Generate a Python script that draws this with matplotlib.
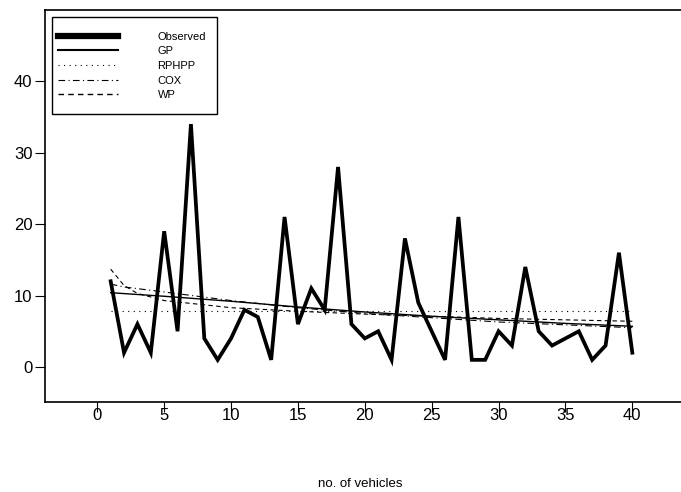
import matplotlib
matplotlib.use("Agg")
import matplotlib.pyplot as plt
from matplotlib.lines import Line2D
from matplotlib.patches import Rectangle

plt.rcParams['font.family'] = ['Liberation Sans', 'DejaVu Sans']

# ---- data ----
vehicles = list(range(1, 41))
observed = [12, 2, 6, 2, 19, 5, 34, 4, 1, 4,
            8, 7, 1, 21, 6, 11, 8, 28, 6, 4,
            5, 1, 18, 9, 5, 1, 21, 1, 1, 5,
            3, 14, 5, 3, 4, 5, 1, 3, 16, 2]

gp_x = [1, 5, 10, 15, 20, 25, 30, 35, 40]
gp_y = [10.4, 9.9, 9.2, 8.4, 7.7, 7.1, 6.6, 6.1, 5.7]

rphpp_x = [1, 40]
rphpp_y = [7.8, 7.8]

cox_x = [1, 2, 5, 10, 15, 20, 25, 30, 35, 40]
cox_y = [11.6, 11.2, 10.5, 9.3, 8.3, 7.5, 6.9, 6.3, 5.9, 5.5]

wp_x = [1, 2, 3, 5, 10, 15, 20, 25, 30, 35, 40]
wp_y = [13.7, 11.4, 10.3, 9.3, 8.3, 7.8, 7.4, 7.1, 6.8, 6.6, 6.4]

labels = ["Observed", "GP", "RPHPP", "COX", "WP"]
xticks = [0, 5, 10, 15, 20, 25, 30, 35, 40]
yticks = [0, 10, 20, 30, 40]

W, H = 681, 492
fig = plt.figure(figsize=(W / 100, H / 100), dpi=100)
ax = fig.add_axes([45 / W, (H - 402) / H, 1 - 45 / W, (402 - 10.5) / H])

ax.plot(vehicles, observed, color='black', lw=2.7, solid_joinstyle='miter')
ax.plot(gp_x, gp_y, color='black', lw=1.0)
ax.plot(rphpp_x, rphpp_y, color='black', lw=0.8, linestyle=(0, (1, 4)))
ax.plot(cox_x, cox_y, color='black', lw=0.8, linestyle=(0, (6, 3, 1, 3)))
ax.plot(wp_x, wp_y, color='black', lw=0.8, linestyle=(0, (4, 3)))

ax.set_xlim(-3.91, 43.64)
ax.set_ylim(-4.9, 49.9)
ax.set_xticks(xticks)
ax.set_yticks(yticks)
ax.set_xticklabels([str(t) for t in xticks])
ax.set_yticklabels([str(t) for t in yticks])
ax.spines['right'].set_visible(False)
for s in ['left', 'top', 'bottom']:
    ax.spines[s].set_linewidth(1.2)
ax.tick_params(axis='x', direction='out', length=7, width=0.8, pad=-3, labelsize=12)
ax.tick_params(axis='y', direction='out', length=7, width=0.8, pad=2, labelsize=12)
ax.set_xlabel("no. of vehicles", fontsize=9.5, va='center')
ax.xaxis.set_label_coords((360 - 45) / (W - 45), (402 - 484) / (402 - 10.5))

handles = [
    Line2D([], [], color='black', lw=4.5),
    Line2D([], [], color='black', lw=1.5),
    Line2D([], [], color='black', lw=0.8, linestyle=(0, (1, 4))),
    Line2D([], [], color='black', lw=0.8, linestyle=(0, (6, 3, 1, 3))),
    Line2D([], [], color='black', lw=1.0, linestyle=(0, (4, 3))),
]
leg = fig.legend(handles, labels, loc='upper left',
                 bbox_to_anchor=(52 / W, 1 - 26 / H), bbox_transform=fig.transFigure,
                 frameon=False, fontsize=8, handlelength=5.4, handletextpad=3.6,
                 borderpad=0.5, labelspacing=0.42, borderaxespad=0)
fig.add_artist(Rectangle((52 / W, 1 - 114 / H), 165 / W, 97 / H,
                         transform=fig.transFigure, fill=False,
                         edgecolor='black', lw=1.0))

fig.savefig("out.png", dpi=100)
